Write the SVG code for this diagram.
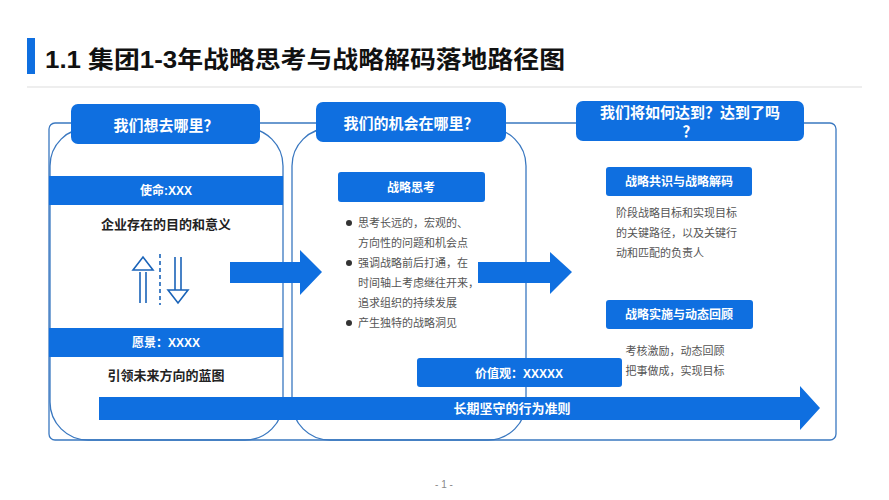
<svg xmlns="http://www.w3.org/2000/svg" width="889" height="500" viewBox="0 0 889 500">
<style>
text{font-family:"Liberation Sans","Noto Sans CJK SC",sans-serif}
.b{fill:#0f6fe0}
.w{fill:#fff;font-weight:bold;text-anchor:middle}
.frame{fill:none;stroke:#3a78c0;stroke-width:1.3}
.d{fill:#222;font-weight:bold;font-size:13px;text-anchor:middle}
.g{fill:#555;font-size:11px}
</style>
<rect width="889" height="500" fill="#fff"/>
<rect x="27" y="38" width="8" height="36" class="b"/>
<text x="45" y="68" font-size="24" font-weight="bold" fill="#111" textLength="520" lengthAdjust="spacingAndGlyphs">1.1 集团1-3年战略思考与战略解码落地路径图</text>
<line x1="27" y1="87" x2="862" y2="87" stroke="#ddd" stroke-width="1"/>
<rect x="49" y="123" width="787" height="317" rx="6" class="frame"/>
<g id="col1">
<rect x="50" y="128" width="233" height="312" rx="38" class="frame"/>
<rect x="71" y="104" width="189" height="40" rx="7" class="b"/>
<text x="166" y="131" class="w" font-size="15">我们想去哪里？</text>
<rect x="49" y="176" width="234" height="29" class="b"/>
<text x="166" y="195" class="w" font-size="12">使命:XXX</text>
<text x="166" y="229" class="d">企业存在的目的和意义</text>
<g fill="none" stroke="#1a63b8" stroke-width="1.6">
<path d="M133 270 L143 257 L153 270 Z"/><line x1="140" y1="272" x2="140" y2="303"/><line x1="146" y1="272" x2="146" y2="303"/>
<line x1="160" y1="254" x2="160" y2="305" stroke-dasharray="4,3"/>
<line x1="175" y1="257" x2="175" y2="290"/><line x1="181" y1="257" x2="181" y2="290"/>
<path d="M168 290 L178 303 L188 290 Z"/>
</g>
<rect x="49" y="328" width="234" height="29" class="b"/>
<text x="166" y="347" class="w" font-size="12">愿景：XXXX</text>
<text x="166" y="380" class="d">引领未来方向的蓝图</text>
</g>
<g id="col2">
<rect x="292" y="128" width="234" height="312" rx="38" class="frame"/>
<rect x="316" y="102" width="190" height="40" rx="7" class="b"/>
<text x="411" y="129" class="w" font-size="15">我们的机会在哪里？</text>
<rect x="338" y="172" width="147" height="30" rx="3" class="b"/>
<text x="411" y="192" class="w" font-size="12">战略思考</text>
<g class="g">
<circle cx="349" cy="223" r="3" fill="#333"/><text x="358" y="227">思考长远的，宏观的、</text>
<text x="358" y="247">方向性的问题和机会点</text>
<circle cx="349" cy="263" r="3" fill="#333"/><text x="358" y="267">强调战略前后打通，在</text>
<text x="358" y="287">时间轴上考虑继往开来，</text>
<text x="358" y="307">追求组织的持续发展</text>
<circle cx="349" cy="323" r="3" fill="#333"/><text x="358" y="327">产生独特的战略洞见</text>
</g>
</g>
<g id="col3">
<rect x="576" y="101" width="228" height="40" rx="7" class="b"/>
<text x="690" y="118" class="w" font-size="15">我们将如何达到？达到了吗</text>
<text x="690" y="137" class="w" font-size="15">？</text>
<rect x="606" y="167" width="146" height="29" rx="3" class="b"/>
<text x="679" y="186" class="w" font-size="12">战略共识与战略解码</text>
<g class="g">
<text x="616" y="217">阶段战略目标和实现目标</text>
<text x="616" y="237">的关键路径，以及关键行</text>
<text x="616" y="257">动和匹配的负责人</text>
</g>
<rect x="606" y="300" width="147" height="29" rx="3" class="b"/>
<text x="679" y="319" class="w" font-size="12">战略实施与动态回顾</text>
<g class="g" text-anchor="middle">
<text x="675" y="355">考核激励，动态回顾</text>
<text x="675" y="375">把事做成，实现目标</text>
</g>
</g>
<g id="values">
<rect x="417" y="358" width="205" height="29" rx="3" class="b"/>
<text x="519" y="378" class="w" font-size="12">价值观：XXXXX</text>
</g>
<g id="connectors">
<path d="M230 262 H300 V250 L322 272 L300 295 V283 H230 Z" class="b"/>
<path d="M478 262 H550 V252 L572 272 L550 294 V283 H478 Z" class="b"/>
<path d="M99 397 H800 V386 L820 408 L800 430 V420 H99 Z" class="b"/>
<text x="512" y="413" class="w" font-size="13">长期坚守的行为准则</text>
</g>
<text x="444" y="488" font-size="10" fill="#888" text-anchor="middle">- 1 -</text>
</svg>
